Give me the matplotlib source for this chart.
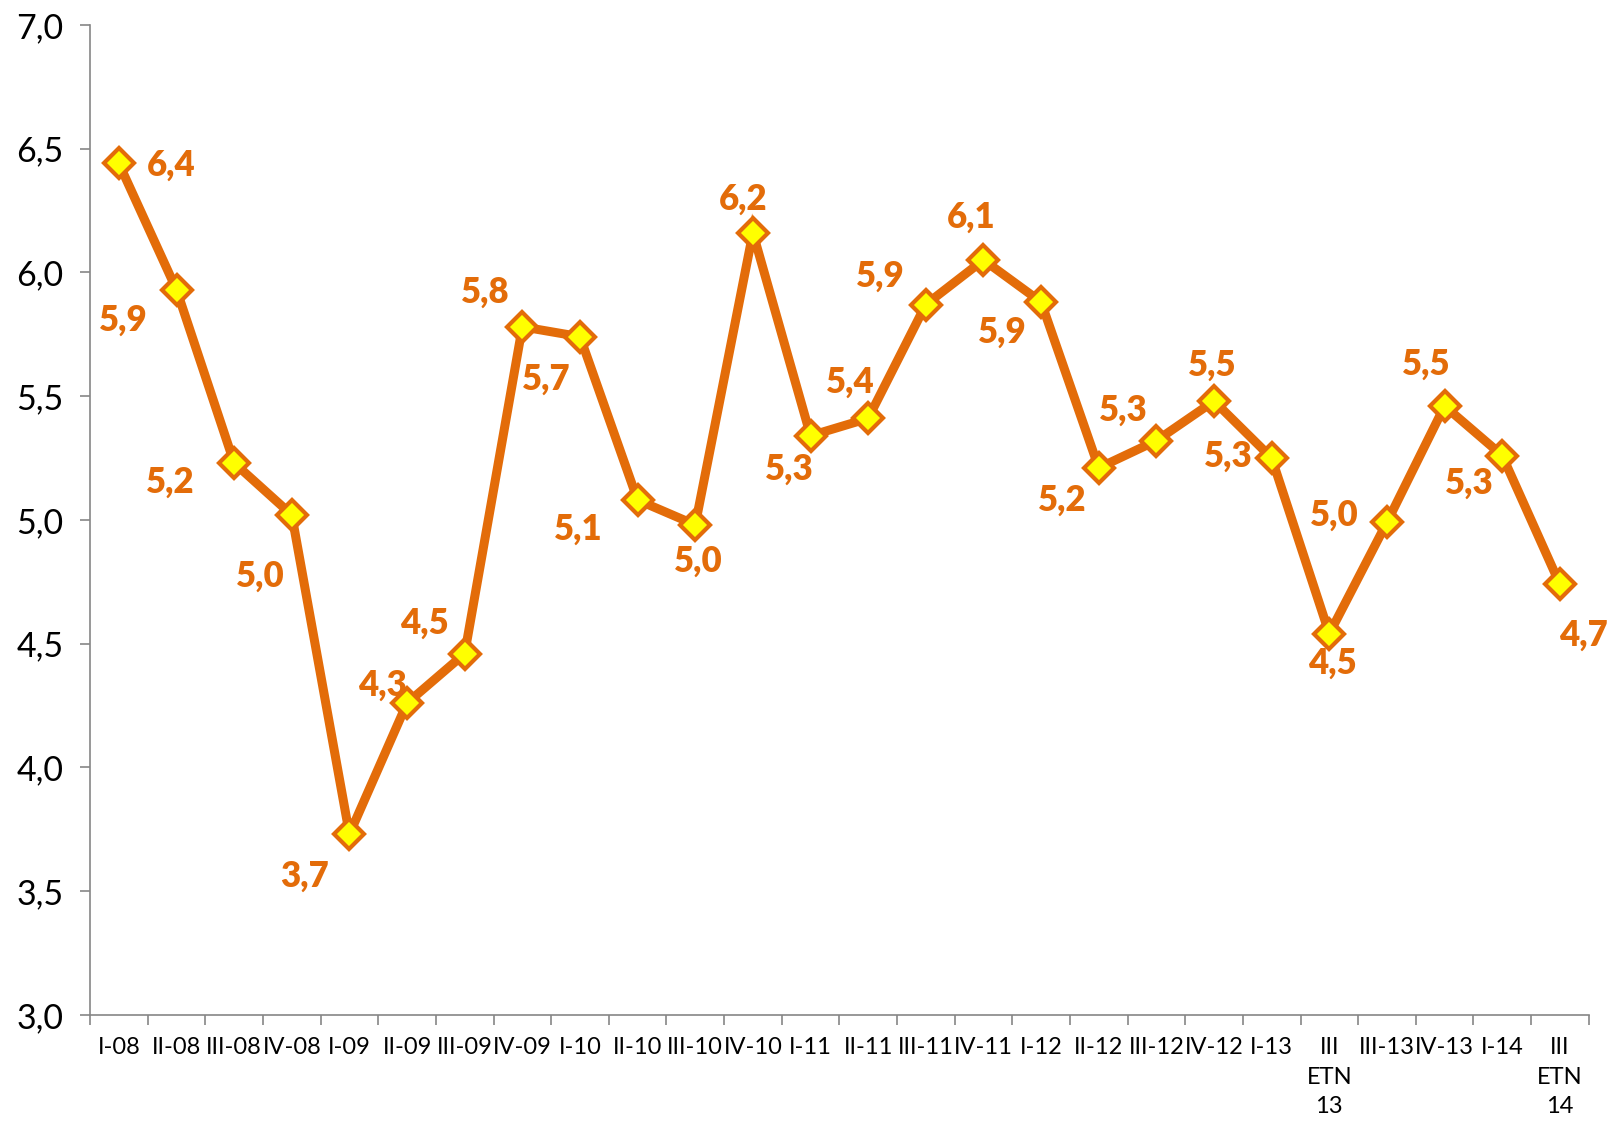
import matplotlib
matplotlib.use("Agg")
import matplotlib.pyplot as plt

# quarterly values
cats = ["I-08", "II-08", "III-08", "IV-08", "I-09", "II-09", "III-09", "IV-09",
        "I-10", "II-10", "III-10", "IV-10", "I-11", "II-11", "III-11", "IV-11",
        "I-12", "II-12", "III-12", "IV-12", "I-13", "III\nETN\n13", "III-13",
        "IV-13", "I-14", "III\nETN\n14"]
vals = [6.44, 5.93, 5.23, 5.02, 3.73, 4.26, 4.46, 5.78,
        5.74, 5.08, 4.98, 6.16, 5.34, 5.41, 5.87, 6.05,
        5.88, 5.21, 5.32, 5.48, 5.25, 4.54, 4.99,
        5.46, 5.26, 4.74]
labels = ["6,4", "5,9", "5,2", "5,0", "3,7", "4,3", "4,5", "5,8",
          "5,7", "5,1", "5,0", "6,2", "5,3", "5,4", "5,9", "6,1",
          "5,9", "5,2", "5,3", "5,5", "5,3", "4,5", "5,0",
          "5,5", "5,3", "4,7"]
yticks = [3.0, 3.5, 4.0, 4.5, 5.0, 5.5, 6.0, 6.5, 7.0]

# label offsets (points)
offs = [(38, -1), (-38, -22), (-46, -14), (-23, -44), (-32, -30), (-18, 13),
        (-29, 22), (-27, 25), (-24, -31), (-43, -21), (2, -26), (-7, 24),
        (-15, -24), (-13, 26), (-33, 20), (-9, 31), (-28, -22), (-26, -23),
        (-24, 22), (-1, 26), (-31, 1), (2, -21), (-38, 5), (-13, 30),
        (-24, -20), (17, -37)]

orange = "#E36C09"
font = ["Lato", "DejaVu Sans"]

fig = plt.figure(figsize=(16.08, 11.26), dpi=100)
ax = fig.add_axes([0.056, 0.0986, 0.932, 0.8794])

x = list(range(len(cats)))
ax.plot(x, vals, color=orange, lw=6.5, marker="D", markersize=15,
        markerfacecolor="#FFFF00", markeredgecolor=orange, markeredgewidth=3,
        solid_joinstyle="miter", zorder=3)

for xi, v, lab, o in zip(x, vals, labels, offs):
    ax.annotate(lab, (xi, v), xytext=o, textcoords="offset points",
                ha="center", va="center", color=orange, fontsize=25,
                fontweight="heavy", family=font, zorder=4)

ax.set_xlim(-0.5, len(cats) - 0.5)
ax.set_ylim(3.0, 7.0)
ax.set_yticks(yticks)
ax.set_yticklabels([f"{t:.1f}".replace(".", ",") for t in yticks],
                   family=font, fontsize=24.5)
ax.set_xticks([i - 0.5 for i in range(len(cats) + 1)])
ax.set_xticklabels([])
ax.set_xticks(x, minor=True)
ax.set_xticklabels(cats, minor=True, family=font, fontsize=17,
                   linespacing=1.5, va="top")
ax.tick_params(axis="x", which="minor", length=0, pad=16)
ax.tick_params(axis="x", which="major", length=7, color="#868686", width=1.2)
ax.tick_params(axis="y", length=7, color="#868686", width=1.2, pad=12)

for s in ["top", "right"]:
    ax.spines[s].set_visible(False)
for s in ["left", "bottom"]:
    ax.spines[s].set_color("#868686")
    ax.spines[s].set_linewidth(1.2)

fig.savefig("out.png", dpi=100)
